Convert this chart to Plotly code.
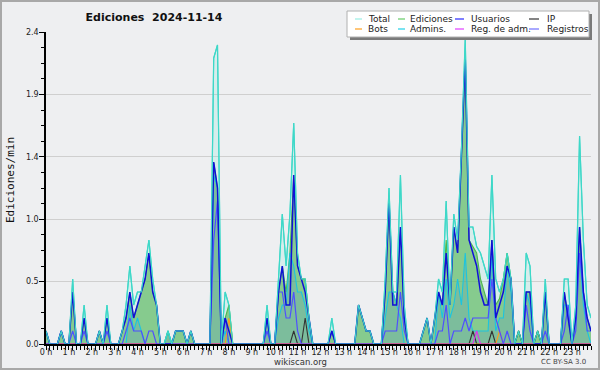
import plotly.graph_objects as go

# ---------------- data (values per 10-minute bin, 6 bins per hour) ----------------
x_tick_labels = ["0 h", "1 h", "2 h", "3 h", "4 h", "5 h", "6 h", "7 h", "8 h", "9 h", "10 h", "11 h",
                 "12 h", "13 h", "14 h", "15 h", "16 h", "17 h", "18 h", "19 h", "20 h", "21 h", "22 h", "23 h"]
y_tick_vals = [0, 0.48, 0.96, 1.44, 1.92, 2.4]
y_tick_labels = ["0.0", "0.5", "1.0", "1.4", "1.9", "2.4"]

total = [
    0.1, 0, 0, 0, 0.1, 0,
    0, 0.5, 0, 0, 0.3, 0,
    0, 0, 0.1, 0, 0.3, 0,
    0, 0, 0.1, 0.3, 0.6, 0.3,
    0.4, 0.4, 0.6, 0.8, 0.5, 0.3,
    0, 0, 0.1, 0, 0.1, 0.1,
    0.1, 0, 0.1, 0, 0, 0,
    0, 0, 2.2, 2.3, 0, 0.4,
    0.3, 0, 0, 0, 0, 0,
    0, 0, 0, 0, 0.3, 0,
    0, 0.5, 1.0, 0.6, 1.0, 1.7,
    0.7, 0.5, 0.5, 0.2, 0, 0,
    0, 0, 0, 0.2, 0, 0,
    0, 0, 0, 0, 0.3, 0.2,
    0.1, 0.1, 0, 0, 0, 0.5,
    1.2, 0.4, 0.4, 1.3, 0.3, 0,
    0, 0, 0, 0.1, 0.2, 0,
    0.2, 0.5, 0.4, 1.1, 0.3, 1.0,
    0.8, 1.5, 2.35, 0.9, 0.9, 0.75,
    0.7, 0.6, 0.5, 1.3, 0.5, 0.4,
    0.5, 0.7, 0.5, 0, 0.1, 0,
    0.7, 0.6, 0, 0.1, 0, 0.5,
    0, 0, 0, 0, 0.5, 0.5,
    0, 0.3, 1.6, 0.8, 0.3, 0.2,
]

ediciones = [
    0.1, 0, 0, 0, 0.1, 0,
    0, 0.4, 0, 0, 0.2, 0,
    0, 0, 0.1, 0, 0.2, 0,
    0, 0, 0.1, 0.2, 0.4, 0.2,
    0.3, 0.4, 0.5, 0.7, 0.4, 0.3,
    0, 0, 0.1, 0, 0.1, 0.1,
    0.1, 0, 0.1, 0, 0, 0,
    0, 0, 1.4, 1.2, 0, 0.2,
    0.3, 0, 0, 0, 0, 0,
    0, 0, 0, 0, 0.2, 0,
    0, 0.4, 0.6, 0.4, 0.7, 1.3,
    0.6, 0.5, 0.5, 0.2, 0, 0,
    0, 0, 0, 0.1, 0, 0,
    0, 0, 0, 0, 0.3, 0.2,
    0.1, 0.1, 0, 0, 0, 0.4,
    1.1, 0.4, 0.3, 0.9, 0.2, 0,
    0, 0, 0, 0.1, 0.2, 0,
    0.2, 0.4, 0.3, 0.8, 0.3, 0.9,
    0.7, 1.4, 2.2, 0.8, 0.75, 0.7,
    0.5, 0.4, 0.3, 0.8, 0.3, 0.35,
    0.5, 0.7, 0.5, 0, 0.1, 0,
    0.4, 0.4, 0, 0.1, 0, 0.4,
    0, 0, 0, 0, 0.4, 0.2,
    0, 0.2, 0.9, 0.4, 0.2, 0.1,
]

usuarios = [
    0.1, 0, 0, 0, 0.1, 0,
    0, 0.4, 0, 0, 0.2, 0,
    0, 0, 0.1, 0, 0.2, 0,
    0, 0, 0.1, 0.2, 0.4, 0.2,
    0.3, 0.4, 0.5, 0.7, 0.4, 0.3,
    0, 0, 0, 0, 0.1, 0.1,
    0.1, 0, 0.1, 0, 0, 0,
    0, 0, 1.4, 1.2, 0, 0.2,
    0.1, 0, 0, 0, 0, 0,
    0, 0, 0, 0, 0.2, 0,
    0, 0.4, 0.6, 0.3, 0.3, 1.3,
    0.6, 0.5, 0.4, 0.2, 0, 0,
    0, 0, 0, 0.1, 0, 0,
    0, 0, 0, 0, 0.3, 0.2,
    0.1, 0.1, 0, 0, 0, 0.4,
    1.1, 0.3, 0.3, 0.9, 0.2, 0,
    0, 0, 0, 0.1, 0.2, 0,
    0.2, 0.4, 0.3, 0.7, 0.3, 0.9,
    0.7, 1.4, 2.2, 0.8, 0.7, 0.6,
    0.4, 0.3, 0.3, 0.8, 0.2, 0.3,
    0.4, 0.6, 0.5, 0, 0, 0,
    0.4, 0.4, 0, 0, 0, 0.4,
    0, 0, 0, 0, 0.4, 0.2,
    0, 0.2, 0.9, 0.4, 0.2, 0.1,
]

ip = [
    0, 0, 0, 0, 0, 0,
    0, 0, 0, 0, 0, 0,
    0, 0, 0, 0, 0, 0,
    0, 0, 0, 0, 0, 0,
    0, 0, 0, 0, 0, 0,
    0, 0, 0, 0, 0, 0,
    0, 0, 0, 0, 0, 0,
    0, 0, 0, 0, 0, 0,
    0, 0, 0, 0, 0, 0,
    0, 0, 0, 0, 0, 0,
    0, 0, 0, 0, 0, 0.1,
    0, 0, 0.2, 0, 0, 0,
    0, 0, 0, 0, 0, 0,
    0, 0, 0, 0, 0, 0,
    0, 0, 0, 0, 0, 0,
    0, 0, 0, 0, 0, 0,
    0, 0, 0, 0, 0, 0,
    0, 0, 0, 0, 0, 0,
    0, 0, 0, 0, 0.1, 0,
    0, 0, 0, 0.1, 0, 0,
    0, 0, 0, 0, 0.1, 0,
    0, 0, 0, 0.1, 0, 0,
    0, 0, 0, 0, 0, 0,
    0, 0, 0, 0, 0, 0,
]

bots = [
    0, 0, 0, 0, 0, 0,
    0, 0, 0, 0, 0, 0,
    0, 0, 0, 0, 0, 0,
    0, 0, 0, 0, 0, 0,
    0, 0, 0, 0, 0, 0,
    0, 0, 0, 0, 0, 0,
    0, 0, 0, 0, 0, 0,
    0, 0, 0, 0, 0, 0,
    0.2, 0, 0, 0, 0, 0,
    0, 0, 0, 0, 0, 0,
    0, 0, 0, 0, 0, 0,
    0, 0, 0, 0, 0, 0,
    0, 0, 0, 0, 0, 0,
    0, 0, 0, 0, 0, 0,
    0, 0, 0, 0, 0, 0,
    0, 0, 0, 0, 0, 0,
    0, 0, 0, 0, 0, 0,
    0, 0, 0, 0, 0, 0,
    0, 0, 0, 0, 0, 0,
    0, 0, 0, 0, 0, 0.1,
    0, 0, 0, 0, 0, 0,
    0, 0, 0, 0, 0, 0,
    0, 0, 0, 0, 0, 0,
    0, 0, 0, 0, 0, 0,
]

admins = [
    0, 0, 0, 0, 0, 0,
    0, 0, 0, 0, 0, 0,
    0, 0, 0, 0, 0, 0,
    0, 0, 0, 0, 0.3, 0.1,
    0.2, 0.1, 0, 0, 0, 0,
    0, 0, 0.1, 0, 0, 0,
    0, 0, 0, 0, 0, 0,
    0, 0, 1.3, 1.2, 0, 0.1,
    0, 0, 0, 0, 0, 0,
    0, 0, 0, 0, 0.2, 0,
    0, 0.2, 0.3, 0.3, 0.7, 0.6,
    0.4, 0.4, 0.3, 0.1, 0, 0,
    0, 0, 0, 0, 0, 0,
    0, 0, 0, 0, 0, 0,
    0, 0, 0, 0, 0, 0.2,
    0.4, 0.4, 0.3, 0.2, 0, 0,
    0, 0, 0, 0, 0, 0,
    0, 0.4, 0.2, 0.5, 0.2, 0.3,
    0.5, 0.3, 0.7, 0.2, 0.1, 0.1,
    0.1, 0.1, 0.1, 0.7, 0.1, 0.2,
    0.2, 0.6, 0.4, 0, 0, 0,
    0.4, 0.3, 0, 0, 0, 0.4,
    0, 0, 0, 0, 0.3, 0.3,
    0, 0.2, 0.7, 0.3, 0.1, 0,
]

reg_adm = [
    0, 0, 0, 0, 0, 0,
    0, 0, 0, 0, 0, 0,
    0, 0, 0, 0, 0, 0,
    0, 0, 0, 0, 0, 0,
    0, 0, 0, 0, 0, 0,
    0, 0, 0, 0, 0, 0,
    0, 0, 0, 0, 0, 0,
    0, 0, 0, 0, 0, 0,
    0, 0, 0, 0, 0, 0,
    0, 0, 0, 0, 0, 0,
    0, 0, 0, 0, 0, 0,
    0, 0, 0, 0, 0, 0,
    0, 0, 0, 0, 0, 0,
    0, 0, 0, 0, 0, 0,
    0, 0, 0, 0, 0, 0,
    0, 0, 0, 0, 0, 0,
    0, 0, 0, 0, 0, 0,
    0, 0, 0, 0, 0, 0,
    0, 0, 0, 0, 0, 0.1,
    0, 0, 0, 0, 0, 0,
    0, 0, 0, 0, 0, 0,
    0, 0, 0, 0, 0, 0,
    0, 0, 0, 0, 0, 0,
    0, 0, 0, 0, 0, 0,
]

registros = [
    0, 0, 0, 0, 0.1, 0,
    0, 0.1, 0, 0, 0.1, 0,
    0, 0, 0, 0, 0.1, 0,
    0, 0, 0, 0.1, 0.2, 0.1,
    0.1, 0.1, 0, 0.1, 0.1, 0,
    0, 0, 0, 0, 0, 0,
    0, 0, 0, 0, 0, 0,
    0, 0, 0.8, 1.1, 0, 0.2,
    0, 0, 0, 0, 0, 0,
    0, 0, 0, 0, 0.1, 0,
    0, 0.4, 0.4, 0.2, 0.2, 0.4,
    0.1, 0, 0, 0, 0, 0,
    0, 0, 0, 0.1, 0, 0,
    0, 0, 0, 0, 0, 0,
    0, 0, 0, 0, 0, 0.1,
    0.1, 0.1, 0.1, 0.4, 0.1, 0,
    0, 0, 0, 0, 0, 0,
    0, 0.1, 0.1, 0.3, 0, 0.1,
    0.1, 0.1, 0.2, 0.1, 0.2, 0.2,
    0.2, 0.2, 0.2, 0.5, 0.2, 0.1,
    0, 0.1, 0, 0, 0, 0,
    0.3, 0.1, 0, 0, 0, 0.1,
    0, 0, 0, 0, 0.1, 0.3,
    0, 0.1, 0.7, 0.4, 0.1, 0.1,
]

# time of each 10-minute bin, in hours
times = [i / 6 for i in range(len(total))]

# ---------------- figure ----------------
W, H = 600, 370
ML, MR, MT, MB = 46, 9, 32, 26
PW, PH = W - ML - MR, H - MT - MB


def px(xp):
    return (xp - ML) / PW


def py(yp):
    return 1 - (yp - MT) / PH


fig = go.Figure()

# filled areas
fig.add_trace(go.Scatter(x=times, y=total, mode="lines", fill="tozeroy",
                         fillcolor="rgba(64,224,208,0.13)", line=dict(color="#3ed8c8", width=1.2),
                         name="Total", showlegend=False))
fig.add_trace(go.Scatter(x=times, y=ediciones, mode="lines", fill="tozeroy",
                         fillcolor="rgba(80,180,80,0.6)", line=dict(color="#4cb84c", width=1.1),
                         name="Ediciones", showlegend=False))
fig.add_trace(go.Scatter(x=times, y=admins, mode="lines", fill="tozeroy",
                         fillcolor="rgba(90,140,210,0.22)", line=dict(color="#1cc4e0", width=1.1),
                         name="Admins.", showlegend=False))
# lines
fig.add_trace(go.Scatter(x=times, y=ip, mode="lines", line=dict(color="#333333", width=1.1),
                         name="IP", showlegend=False))
fig.add_trace(go.Scatter(x=times, y=bots, mode="lines", line=dict(color="#ff9a1a", width=1.1),
                         name="Bots", showlegend=False))
fig.add_trace(go.Scatter(x=times, y=reg_adm, mode="lines", line=dict(color="#dd33ee", width=1.1),
                         name="Reg. de adm.", showlegend=False))
fig.add_trace(go.Scatter(x=times, y=registros, mode="lines", line=dict(color="#4f4fff", width=1.2),
                         name="Registros", showlegend=False))
fig.add_trace(go.Scatter(x=times, y=usuarios, mode="lines", line=dict(color="#1010d8", width=1.5),
                         name="Usuarios", showlegend=False))
fig.add_trace(go.Scatter(x=times, y=total, mode="lines", line=dict(color="#3ed8c8", width=1.1),
                         name="Total", showlegend=False, hoverinfo="skip"))

bg = "#eeeff1"
fig.update_layout(
    width=W, height=H,
    margin=dict(l=ML, r=MR, t=MT, b=MB),
    paper_bgcolor=bg, plot_bgcolor=bg,
    font=dict(family="DejaVu Sans", size=9, color="#222"),
    title=dict(text="Ediciones\u00a0\u00a02024-11-14", x=154 / W, xref="container", xanchor="center",
               y=1 - 17 / H, yref="container", yanchor="middle",
               font=dict(family="DejaVu Sans", size=11, color="#111", weight="bold")),
    showlegend=False,
)

fig.update_xaxes(
    range=[0, times[-1]],
    tickvals=list(range(len(x_tick_labels))), ticktext=x_tick_labels,
    ticks="outside", ticklen=4, tickwidth=1, tickcolor="#000",
    minor=dict(dtick=1 / 6, tick0=0, ticks="outside", ticklen=4, tickwidth=1, tickcolor="#000", showgrid=False),
    showline=True, linecolor="#000", linewidth=2,
    showgrid=False, zeroline=False,
    ticklabelstandoff=-5,
    tickfont=dict(family="DejaVu Sans", size=8, color="#222"),
)
fig.update_yaxes(
    range=[0, 2.4],
    tickvals=y_tick_vals, ticktext=y_tick_labels,
    ticks="outside", ticklen=5, tickwidth=1, tickcolor="#000",
    minor=dict(dtick=0.12, tick0=0, ticks="outside", ticklen=3, tickwidth=1, tickcolor="#000", showgrid=False),
    showline=True, linecolor="#000", linewidth=1.5,
    showgrid=True, gridcolor="#cfcfcf", gridwidth=1,
    zeroline=False,
    ticklabelstandoff=-1,
    tickfont=dict(family="DejaVu Sans", size=8, color="#222"),
)

shapes = []
annotations = []

# outer border of the image
shapes.append(dict(type="rect", xref="paper", yref="paper",
                   x0=px(1), x1=px(W - 1), y0=py(H - 1), y1=py(1),
                   line=dict(color="#a8a8a8", width=2), fillcolor="rgba(0,0,0,0)", layer="above"))

# legend box with shadow
shapes.append(dict(type="rect", xref="paper", yref="paper",
                   x0=px(350), x1=px(592), y0=py(40), y1=py(14),
                   line=dict(width=0), fillcolor="#7a7a7a", layer="above"))
shapes.append(dict(type="rect", xref="paper", yref="paper",
                   x0=px(347), x1=px(589), y0=py(37), y1=py(11),
                   line=dict(color="#b0b0b0", width=1), fillcolor="#ffffff", layer="above"))

legend_items = [
    ("Total", "#9aeee4", 355, 362, 366, 19),
    ("Ediciones", "#66cc66", 398, 405, 408, 19),
    ("Usuarios", "#2a2aff", 455, 464, 469, 19),
    ("IP", "#333333", 529, 539, 545, 19),
    ("Bots", "#ffa020", 355, 362, 366, 29),
    ("Admins.", "#22d0e8", 398, 405, 408, 29),
    ("Reg. de adm.", "#e040ff", 455, 464, 469, 29),
    ("Registros", "#7070ff", 529, 539, 545, 29),
]
for name, color, lx0, lx1, tx, ty in legend_items:
    shapes.append(dict(type="line", xref="paper", yref="paper",
                       x0=px(lx0), x1=px(lx1), y0=py(ty), y1=py(ty),
                       line=dict(color=color, width=1.2), layer="above"))
    annotations.append(dict(text=name, xref="paper", yref="paper", x=px(tx), y=py(ty),
                            xanchor="left", yanchor="middle", showarrow=False,
                            font=dict(family="DejaVu Sans", size=9, color="#222")))

# y-axis title
annotations.append(dict(text="Ediciones/min", xref="paper", yref="paper", x=px(10), y=py(180),
                        xanchor="center", yanchor="middle", textangle=-90, showarrow=False,
                        font=dict(family="DejaVu Sans Mono", size=11, color="#111")))
# footer texts
annotations.append(dict(text="wikiscan.org", xref="paper", yref="paper", x=px(300), y=py(362),
                        xanchor="center", yanchor="middle", showarrow=False,
                        font=dict(family="DejaVu Sans", size=8.5, color="#333")))
annotations.append(dict(text="CC BY-SA 3.0", xref="paper", yref="paper", x=px(588), y=py(362),
                        xanchor="right", yanchor="middle", showarrow=False,
                        font=dict(family="DejaVu Sans", size=7, color="#444")))

fig.update_layout(shapes=shapes, annotations=annotations)

fig.write_html("out.html", config={"displayModeBar": False},
               post_script="document.body.style.margin='0';document.body.style.overflow='hidden';")
